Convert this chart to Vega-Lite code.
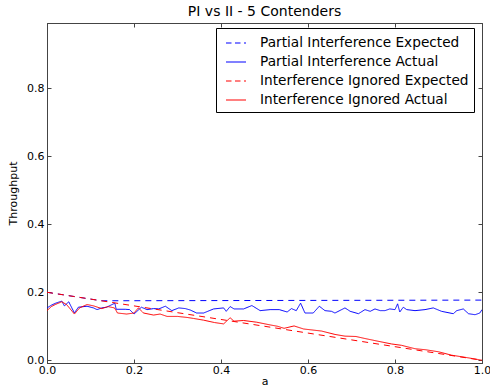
{
  "$schema": "https://vega.github.io/schema/vega-lite/v6.json",
  "autosize": "none",
  "width": 435,
  "height": 340,
  "padding": {"left": 47, "top": 23, "right": 8, "bottom": 26},
  "background": "white",
  "title": {"text": "PI vs II - 5 Contenders", "font": "DejaVu Sans", "fontSize": 14, "fontWeight": "normal", "color": "black", "offset": 4},
  "config": {
    "font": "DejaVu Sans",
    "view": {"stroke": "#444", "strokeWidth": 1},
    "axis": {"grid": false, "labelFont": "DejaVu Sans", "labelFontSize": 11, "labelColor": "black", "labelFlush": false, "titleFont": "DejaVu Sans", "titleFontSize": 11, "titleFontWeight": "normal", "titleColor": "black", "domainColor": "#444", "tickColor": "#444", "tickSize": -4, "labelPadding": 7}
  },
  "datasets": {
    "runs": [
      {"a": 0.0, "v": 0.2, "series": "Partial Interference Expected"},
      {"a": 0.125, "v": 0.175, "series": "Partial Interference Expected"},
      {"a": 1.0, "v": 0.177, "series": "Partial Interference Expected"},

      {"a": 0.0, "v": 0.154, "series": "Partial Interference Actual"},
      {"a": 0.01, "v": 0.162, "series": "Partial Interference Actual"},
      {"a": 0.02, "v": 0.168, "series": "Partial Interference Actual"},
      {"a": 0.034, "v": 0.174, "series": "Partial Interference Actual"},
      {"a": 0.04, "v": 0.16, "series": "Partial Interference Actual"},
      {"a": 0.05, "v": 0.172, "series": "Partial Interference Actual"},
      {"a": 0.063, "v": 0.139, "series": "Partial Interference Actual"},
      {"a": 0.072, "v": 0.156, "series": "Partial Interference Actual"},
      {"a": 0.092, "v": 0.159, "series": "Partial Interference Actual"},
      {"a": 0.107, "v": 0.154, "series": "Partial Interference Actual"},
      {"a": 0.115, "v": 0.149, "series": "Partial Interference Actual"},
      {"a": 0.126, "v": 0.154, "series": "Partial Interference Actual"},
      {"a": 0.137, "v": 0.156, "series": "Partial Interference Actual"},
      {"a": 0.156, "v": 0.168, "series": "Partial Interference Actual"},
      {"a": 0.159, "v": 0.15, "series": "Partial Interference Actual"},
      {"a": 0.18, "v": 0.15, "series": "Partial Interference Actual"},
      {"a": 0.19, "v": 0.149, "series": "Partial Interference Actual"},
      {"a": 0.2, "v": 0.136, "series": "Partial Interference Actual"},
      {"a": 0.217, "v": 0.156, "series": "Partial Interference Actual"},
      {"a": 0.23, "v": 0.149, "series": "Partial Interference Actual"},
      {"a": 0.245, "v": 0.152, "series": "Partial Interference Actual"},
      {"a": 0.257, "v": 0.151, "series": "Partial Interference Actual"},
      {"a": 0.272, "v": 0.159, "series": "Partial Interference Actual"},
      {"a": 0.287, "v": 0.146, "series": "Partial Interference Actual"},
      {"a": 0.303, "v": 0.154, "series": "Partial Interference Actual"},
      {"a": 0.318, "v": 0.152, "series": "Partial Interference Actual"},
      {"a": 0.329, "v": 0.148, "series": "Partial Interference Actual"},
      {"a": 0.344, "v": 0.139, "series": "Partial Interference Actual"},
      {"a": 0.36, "v": 0.139, "series": "Partial Interference Actual"},
      {"a": 0.383, "v": 0.151, "series": "Partial Interference Actual"},
      {"a": 0.406, "v": 0.154, "series": "Partial Interference Actual"},
      {"a": 0.412, "v": 0.144, "series": "Partial Interference Actual"},
      {"a": 0.421, "v": 0.158, "series": "Partial Interference Actual"},
      {"a": 0.43, "v": 0.151, "series": "Partial Interference Actual"},
      {"a": 0.452, "v": 0.151, "series": "Partial Interference Actual"},
      {"a": 0.471, "v": 0.161, "series": "Partial Interference Actual"},
      {"a": 0.49, "v": 0.146, "series": "Partial Interference Actual"},
      {"a": 0.513, "v": 0.149, "series": "Partial Interference Actual"},
      {"a": 0.534, "v": 0.149, "series": "Partial Interference Actual"},
      {"a": 0.552, "v": 0.142, "series": "Partial Interference Actual"},
      {"a": 0.562, "v": 0.152, "series": "Partial Interference Actual"},
      {"a": 0.573, "v": 0.146, "series": "Partial Interference Actual"},
      {"a": 0.583, "v": 0.168, "series": "Partial Interference Actual"},
      {"a": 0.593, "v": 0.139, "series": "Partial Interference Actual"},
      {"a": 0.612, "v": 0.139, "series": "Partial Interference Actual"},
      {"a": 0.626, "v": 0.159, "series": "Partial Interference Actual"},
      {"a": 0.639, "v": 0.146, "series": "Partial Interference Actual"},
      {"a": 0.654, "v": 0.144, "series": "Partial Interference Actual"},
      {"a": 0.662, "v": 0.139, "series": "Partial Interference Actual"},
      {"a": 0.685, "v": 0.154, "series": "Partial Interference Actual"},
      {"a": 0.697, "v": 0.144, "series": "Partial Interference Actual"},
      {"a": 0.716, "v": 0.137, "series": "Partial Interference Actual"},
      {"a": 0.731, "v": 0.149, "series": "Partial Interference Actual"},
      {"a": 0.743, "v": 0.144, "series": "Partial Interference Actual"},
      {"a": 0.754, "v": 0.151, "series": "Partial Interference Actual"},
      {"a": 0.766, "v": 0.146, "series": "Partial Interference Actual"},
      {"a": 0.777, "v": 0.146, "series": "Partial Interference Actual"},
      {"a": 0.788, "v": 0.151, "series": "Partial Interference Actual"},
      {"a": 0.8, "v": 0.149, "series": "Partial Interference Actual"},
      {"a": 0.806, "v": 0.166, "series": "Partial Interference Actual"},
      {"a": 0.811, "v": 0.142, "series": "Partial Interference Actual"},
      {"a": 0.819, "v": 0.156, "series": "Partial Interference Actual"},
      {"a": 0.827, "v": 0.149, "series": "Partial Interference Actual"},
      {"a": 0.846, "v": 0.146, "series": "Partial Interference Actual"},
      {"a": 0.869, "v": 0.149, "series": "Partial Interference Actual"},
      {"a": 0.888, "v": 0.154, "series": "Partial Interference Actual"},
      {"a": 0.907, "v": 0.144, "series": "Partial Interference Actual"},
      {"a": 0.934, "v": 0.137, "series": "Partial Interference Actual"},
      {"a": 0.942, "v": 0.146, "series": "Partial Interference Actual"},
      {"a": 0.957, "v": 0.151, "series": "Partial Interference Actual"},
      {"a": 0.969, "v": 0.137, "series": "Partial Interference Actual"},
      {"a": 0.984, "v": 0.134, "series": "Partial Interference Actual"},
      {"a": 0.995, "v": 0.139, "series": "Partial Interference Actual"},
      {"a": 1.0, "v": 0.149, "series": "Partial Interference Actual"},

      {"a": 0.0, "v": 0.2, "series": "Interference Ignored Expected"},
      {"a": 0.5, "v": 0.1, "series": "Interference Ignored Expected"},
      {"a": 1.0, "v": 0.0, "series": "Interference Ignored Expected"},

      {"a": 0.0, "v": 0.146, "series": "Interference Ignored Actual"},
      {"a": 0.01, "v": 0.158, "series": "Interference Ignored Actual"},
      {"a": 0.019, "v": 0.164, "series": "Interference Ignored Actual"},
      {"a": 0.034, "v": 0.172, "series": "Interference Ignored Actual"},
      {"a": 0.045, "v": 0.164, "series": "Interference Ignored Actual"},
      {"a": 0.063, "v": 0.136, "series": "Interference Ignored Actual"},
      {"a": 0.075, "v": 0.154, "series": "Interference Ignored Actual"},
      {"a": 0.092, "v": 0.164, "series": "Interference Ignored Actual"},
      {"a": 0.107, "v": 0.16, "series": "Interference Ignored Actual"},
      {"a": 0.126, "v": 0.152, "series": "Interference Ignored Actual"},
      {"a": 0.14, "v": 0.158, "series": "Interference Ignored Actual"},
      {"a": 0.155, "v": 0.154, "series": "Interference Ignored Actual"},
      {"a": 0.159, "v": 0.146, "series": "Interference Ignored Actual"},
      {"a": 0.162, "v": 0.139, "series": "Interference Ignored Actual"},
      {"a": 0.183, "v": 0.136, "series": "Interference Ignored Actual"},
      {"a": 0.2, "v": 0.139, "series": "Interference Ignored Actual"},
      {"a": 0.21, "v": 0.154, "series": "Interference Ignored Actual"},
      {"a": 0.222, "v": 0.139, "series": "Interference Ignored Actual"},
      {"a": 0.245, "v": 0.133, "series": "Interference Ignored Actual"},
      {"a": 0.26, "v": 0.136, "series": "Interference Ignored Actual"},
      {"a": 0.276, "v": 0.129, "series": "Interference Ignored Actual"},
      {"a": 0.3, "v": 0.129, "series": "Interference Ignored Actual"},
      {"a": 0.322, "v": 0.126, "series": "Interference Ignored Actual"},
      {"a": 0.337, "v": 0.123, "series": "Interference Ignored Actual"},
      {"a": 0.36, "v": 0.118, "series": "Interference Ignored Actual"},
      {"a": 0.385, "v": 0.111, "series": "Interference Ignored Actual"},
      {"a": 0.406, "v": 0.107, "series": "Interference Ignored Actual"},
      {"a": 0.421, "v": 0.125, "series": "Interference Ignored Actual"},
      {"a": 0.43, "v": 0.115, "series": "Interference Ignored Actual"},
      {"a": 0.452, "v": 0.117, "series": "Interference Ignored Actual"},
      {"a": 0.482, "v": 0.112, "series": "Interference Ignored Actual"},
      {"a": 0.513, "v": 0.104, "series": "Interference Ignored Actual"},
      {"a": 0.53, "v": 0.1, "series": "Interference Ignored Actual"},
      {"a": 0.545, "v": 0.094, "series": "Interference Ignored Actual"},
      {"a": 0.568, "v": 0.101, "series": "Interference Ignored Actual"},
      {"a": 0.59, "v": 0.092, "series": "Interference Ignored Actual"},
      {"a": 0.631, "v": 0.086, "series": "Interference Ignored Actual"},
      {"a": 0.662, "v": 0.076, "series": "Interference Ignored Actual"},
      {"a": 0.685, "v": 0.071, "series": "Interference Ignored Actual"},
      {"a": 0.71, "v": 0.07, "series": "Interference Ignored Actual"},
      {"a": 0.731, "v": 0.064, "series": "Interference Ignored Actual"},
      {"a": 0.761, "v": 0.056, "series": "Interference Ignored Actual"},
      {"a": 0.792, "v": 0.048, "series": "Interference Ignored Actual"},
      {"a": 0.815, "v": 0.044, "series": "Interference Ignored Actual"},
      {"a": 0.846, "v": 0.034, "series": "Interference Ignored Actual"},
      {"a": 0.87, "v": 0.031, "series": "Interference Ignored Actual"},
      {"a": 0.9, "v": 0.025, "series": "Interference Ignored Actual"},
      {"a": 0.93, "v": 0.015, "series": "Interference Ignored Actual"},
      {"a": 0.96, "v": 0.009, "series": "Interference Ignored Actual"},
      {"a": 0.992, "v": 0.002, "series": "Interference Ignored Actual"},
      {"a": 1.0, "v": 0.0, "series": "Interference Ignored Actual"}
    ]
  },
  "data": {"name": "runs"},
  "resolve": {"axis": {"x": "independent", "y": "independent"}},
  "layer": [
    {
      "mark": {"type": "line", "strokeWidth": 1, "clip": true},
      "encoding": {
        "x": {"field": "a", "type": "quantitative", "scale": {"domain": [0, 1], "nice": false, "zero": false}, "axis": {"orient": "bottom", "title": "a", "values": [0, 0.2, 0.4, 0.6, 0.8, 1.0], "format": ".1f", "labelPadding": 5, "titlePadding": 0}},
        "y": {"field": "v", "type": "quantitative", "scale": {"domain": [-0.008, 0.992], "nice": false, "zero": false}, "axis": {"orient": "left", "title": "Throughput", "values": [0, 0.2, 0.4, 0.6, 0.8], "format": ".1f", "titlePadding": 8}},
        "color": {
          "field": "series", "type": "nominal",
          "scale": {"domain": ["Partial Interference Expected", "Partial Interference Actual", "Interference Ignored Expected", "Interference Ignored Actual"], "range": ["#0000ff", "#0000fe", "#ff0000", "#fe0000"]},
          "legend": {
            "title": null, "orient": "none", "legendX": 169, "legendY": 5,
            "symbolSize": 400, "symbolStrokeWidth": 0, "symbolOffset": 5,
            "labelFont": "DejaVu Sans", "labelFontSize": 13.7, "labelColor": "black", "labelLimit": 0, "labelOffset": 14,
            "rowPadding": 2, "padding": 5, "strokeColor": "black", "fillColor": "white", "cornerRadius": 0,
            "encode": {"symbols": {
              "enter": {
                "fill": {"signal": "indexof(datum.value, 'Partial') === 0 ? '#0000ff' : '#ff0000'"},
                "stroke": {"value": "transparent"}
              },
              "update": {
                "shape": {"signal": "indexof(datum.value, 'Expected') > 0 ? 'M-1,-0.05H-0.45V0.05H-1Z M-0.1,-0.05H0.45V0.05H-0.1Z M0.8,-0.05H1V0.05H0.8Z' : 'M-1,-0.05H1V0.05H-1Z'"},
                "fill": {"signal": "indexof(datum.value, 'Partial') === 0 ? '#0000ff' : '#ff0000'"},
                "fillOpacity": {"value": 1},
                "stroke": {"value": "transparent"},
                "strokeWidth": {"value": 0},
                "strokeDash": {"value": []}
              }
            }}
          }
        },
        "strokeDash": {
          "field": "series", "type": "nominal",
          "scale": {"domain": ["Partial Interference Expected", "Partial Interference Actual", "Interference Ignored Expected", "Interference Ignored Actual"], "range": [[6, 5], [1, 0], [6, 5], [1, 0]]},
          "legend": null
        },
        "order": {"field": "a", "type": "quantitative"}
      }
    },
    {
      "mark": {"type": "line", "opacity": 0},
      "encoding": {
        "x": {"field": "a", "type": "quantitative", "axis": {"orient": "top", "title": null, "labels": false, "values": [0, 0.2, 0.4, 0.6, 0.8, 1.0]}},
        "y": {"field": "v", "type": "quantitative", "axis": {"orient": "right", "title": null, "labels": false, "values": [0, 0.2, 0.4, 0.6, 0.8]}},
        "detail": {"field": "series", "type": "nominal"}
      }
    }
  ]
}
